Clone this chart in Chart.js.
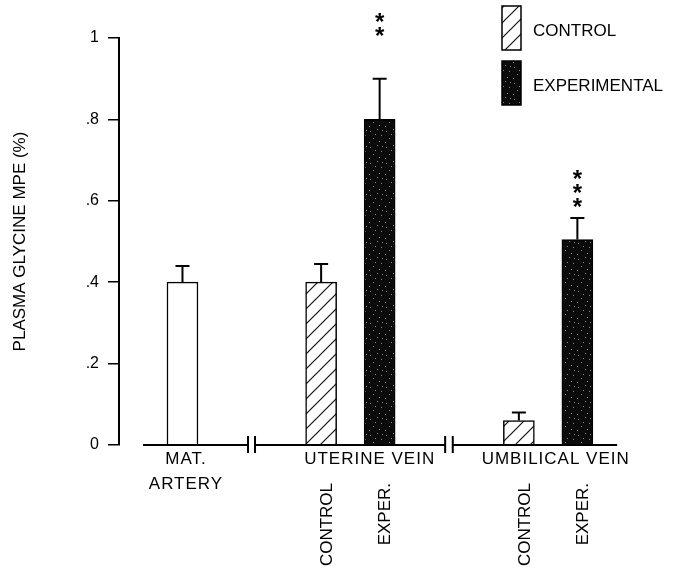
<!DOCTYPE html>
<html>
<head>
<meta charset="utf-8">
<script src="https://cdn.jsdelivr.net/npm/chart.js@4.4.0/dist/chart.umd.min.js"></script>
<style>
  body { margin: 0; background: #fff; }
</style>
</head>
<body>
<canvas id="glycine" width="675" height="573"></canvas>
<script>
// values
const groupNames = [['MAT.', 'ARTERY'], ['UTERINE VEIN'], ['UMBILICAL VEIN']];
const barNames = ['', 'CONTROL', 'EXPER.', 'CONTROL', 'EXPER.'];
const barKind = ['artery', 'control', 'exper', 'control', 'exper'];
const meanMPE = [0.40, 0.40, 0.80, 0.06, 0.505];
const semMPE = [0.04, 0.045, 0.10, 0.02, 0.053];
const stars = ['', '', '**', '', '***'];
const starLevel = [null, null, 1.02, null, 0.60];
const yTicks = ['0', '.2', '.4', '.6', '.8', '1'];
const legendLabels = ['CONTROL', 'EXPERIMENTAL'];

// x layout, in units of one bar pair spacing
const barSlot = [0, 2.37, 3.37, 5.75, 6.75];
const groupCentre = [0.06, 3.2, 6.38];
const axisPieces = [[-0.675, 1.12], [1.24, 4.49], [4.62, 7.43]];

const FONT = "'Liberation Sans', Arial, sans-serif";
Chart.defaults.font.family = FONT;
Chart.defaults.color = '#000';

const canvas = document.getElementById('glycine');
const ctx = canvas.getContext('2d');

function hatchPattern() {
    const c = document.createElement('canvas');
    c.width = 15; c.height = 15;
    const g = c.getContext('2d');
    g.fillStyle = '#fff';
    g.fillRect(0, 0, 15, 15);
    g.strokeStyle = '#111';
    g.lineWidth = 1.2;
    g.beginPath();
    for (const o of [-15, 0, 15]) {
        g.moveTo(-1 + o, 16);
        g.lineTo(16 + o, -1);
    }
    g.stroke();
    return ctx.createPattern(c, 'repeat');
}

function speckPattern() {
    const c = document.createElement('canvas');
    c.width = 16; c.height = 16;
    const g = c.getContext('2d');
    g.fillStyle = '#0b0b0b';
    g.fillRect(0, 0, 16, 16);
    g.fillStyle = '#8a8a8a';
    [[2, 3], [9, 1], [13, 7], [5, 10], [11, 13], [1, 14], [7, 6], [14, 2]].forEach(([px, py]) => g.fillRect(px, py, 1, 1));
    return ctx.createPattern(c, 'repeat');
}

const fills = { artery: '#fff', control: hatchPattern(), exper: speckPattern() };

const extras = {
    id: 'extras',
    afterDatasetsDraw(chart) {
        const { ctx, scales: { x, y } } = chart;
        const bars = chart.getDatasetMeta(0).data;
        const y0 = y.getPixelForValue(0);
        ctx.save();
        ctx.strokeStyle = '#000';
        ctx.fillStyle = '#000';

        // broken baseline
        ctx.lineWidth = 2;
        ctx.beginPath();
        axisPieces.forEach(([a, b], i) => {
            const xa = x.getPixelForValue(a), xb = x.getPixelForValue(b);
            ctx.moveTo(xa, y0); ctx.lineTo(xb, y0);
            if (i > 0) { ctx.moveTo(xa, y0 - 9); ctx.lineTo(xa, y0 + 8); }
            if (i < axisPieces.length - 1) { ctx.moveTo(xb, y0 - 9); ctx.lineTo(xb, y0 + 8); }
        });
        ctx.stroke();

        // error bars (upper half only)
        ctx.lineWidth = 2;
        bars.forEach((bar, i) => {
            const top = y.getPixelForValue(meanMPE[i] + semMPE[i]);
            ctx.beginPath();
            ctx.moveTo(bar.x, bar.y); ctx.lineTo(bar.x, top);
            ctx.moveTo(bar.x - 7, top); ctx.lineTo(bar.x + 7, top);
            ctx.stroke();
        });

        // significance stars
        ctx.font = 'bold 24px ' + FONT;
        ctx.textAlign = 'center';
        ctx.textBaseline = 'alphabetic';
        bars.forEach((bar, i) => {
            if (!stars[i]) return;
            const base = y.getPixelForValue(starLevel[i]);
            for (let k = 0; k < stars[i].length; k++) {
                ctx.fillText('*', bar.x, base - k * 14 + 14);
            }
        });

        // group names under the axis
        ctx.font = '17px ' + FONT;
        ctx.letterSpacing = '1px';
        ctx.textBaseline = 'middle';
        groupNames.forEach((lines, i) => {
            const cx = x.getPixelForValue(groupCentre[i]);
            lines.forEach((t, k) => ctx.fillText(t, cx, y0 + 14 + k * 25));
        });

        // rotated bar names
        ctx.letterSpacing = '0px';
        ctx.textAlign = 'right';
        bars.forEach((bar, i) => {
            if (!barNames[i]) return;
            ctx.save();
            ctx.translate(bar.x + 6, y0 + 38);
            ctx.rotate(-Math.PI / 2);
            ctx.fillText(barNames[i], 0, 0);
            ctx.restore();
        });

        // legend, top right
        const lx = 502, boxW = 19, boxH = 44;
        [fills.control, fills.exper].forEach((f, k) => {
            const ly = 6 + k * 55;
            ctx.fillStyle = f;
            ctx.fillRect(lx, ly, boxW, boxH);
            ctx.lineWidth = 1.5;
            ctx.strokeRect(lx, ly, boxW, boxH);
            ctx.fillStyle = '#000';
            ctx.textAlign = 'left';
            ctx.fillText(legendLabels[k], lx + 31, ly + 25);
        });
        ctx.restore();
    }
};

new Chart(canvas, {
    type: 'bar',
    data: {
        datasets: [{
            data: meanMPE.map((v, i) => ({ x: barSlot[i], y: v })),
            backgroundColor: barKind.map(k => fills[k]),
            borderColor: '#000',
            borderWidth: 1.5,
            barThickness: 31
        }]
    },
    options: {
        responsive: false,
        animation: false,
        layout: { padding: { top: 38, bottom: 128, left: 0, right: 30 } },
        plugins: { legend: { display: false }, tooltip: { enabled: false } },
        scales: {
            x: {
                type: 'linear',
                display: false,
                offset: false,
                grid: { offset: false },
                min: -1.085,
                max: 7.906
            },
            y: {
                min: 0,
                max: 1,
                afterFit: (scale) => { scale.width = 119; },
                ticks: {
                    stepSize: 0.2,
                    padding: 9,
                    color: '#000',
                    font: { size: 16 },
                    callback: (v, i) => yTicks[i]
                },
                grid: { drawOnChartArea: false, tickLength: 11, color: '#000', lineWidth: 1.5 },
                border: { color: '#000', width: 2 },
                title: {
                    display: true,
                    text: 'PLASMA GLYCINE MPE (%)',
                    color: '#000',
                    font: { size: 17 },
                    padding: { top: 10 }
                }
            }
        }
    },
    plugins: [extras]
});
</script>
</body>
</html>
